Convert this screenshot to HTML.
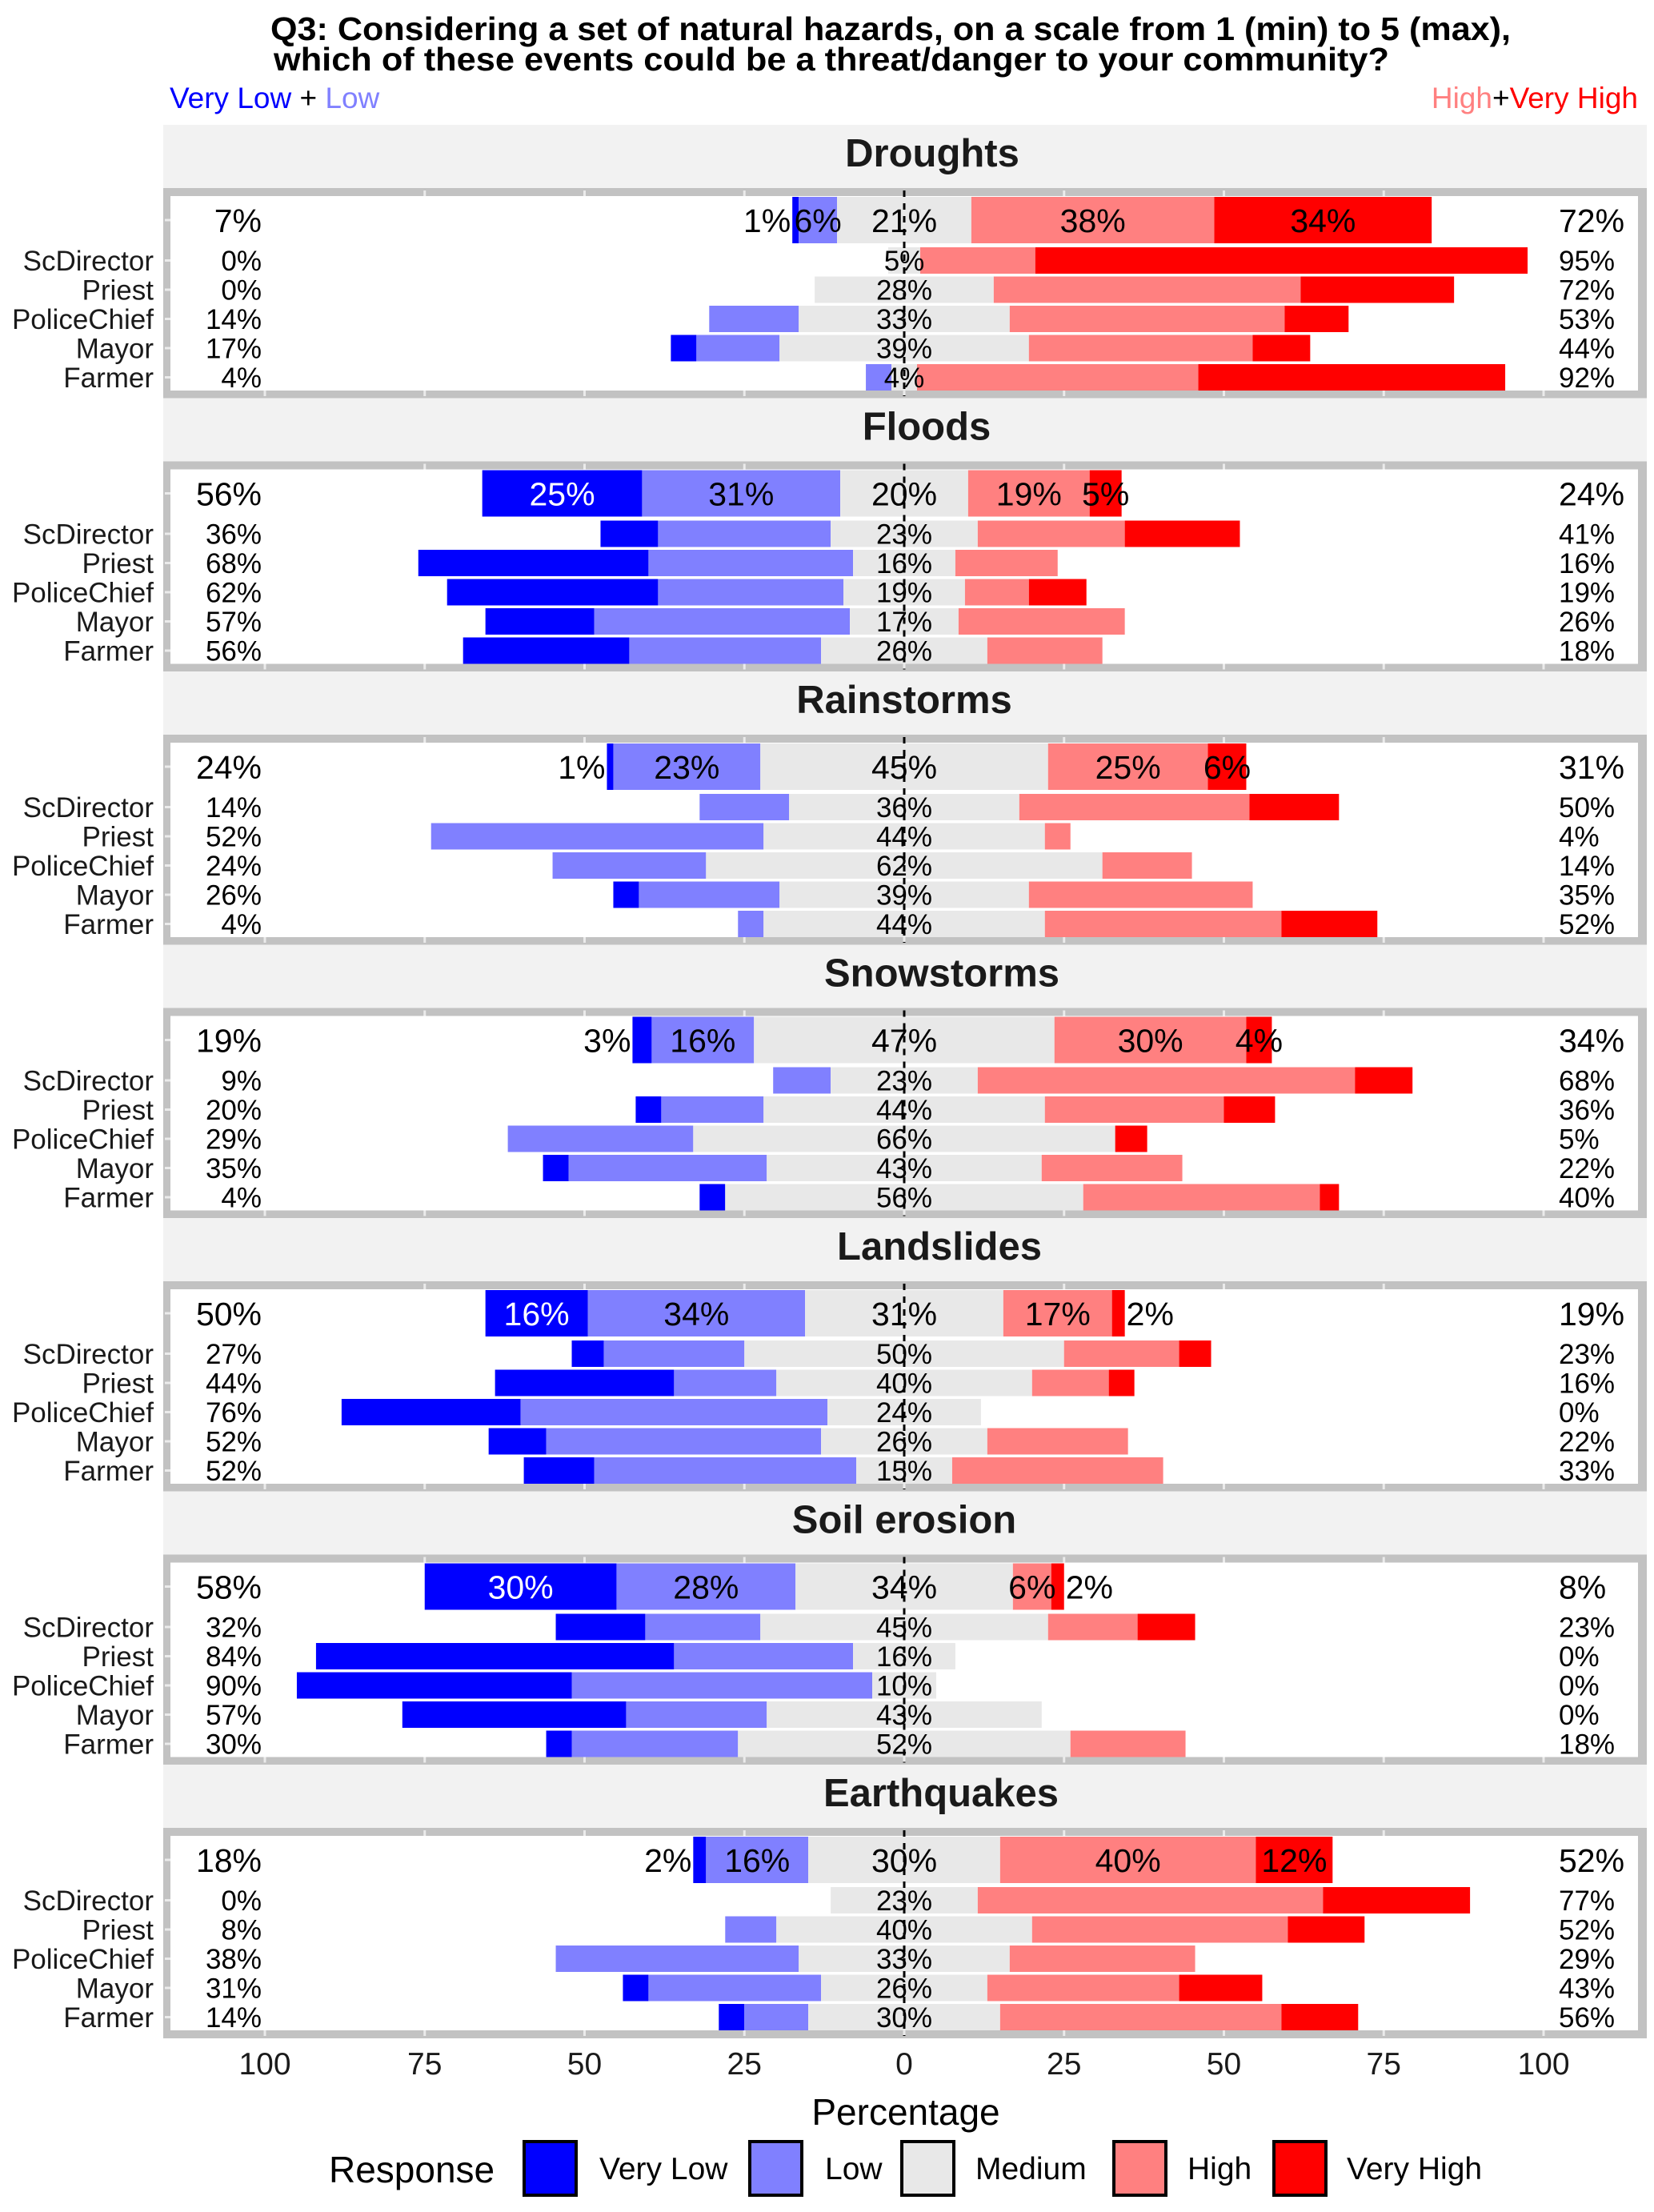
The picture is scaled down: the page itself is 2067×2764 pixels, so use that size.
<!DOCTYPE html>
<html><head><meta charset="utf-8"><style>
html,body{margin:0;padding:0;background:#fff;}
svg{display:block;font-family:"Liberation Sans",Arial,sans-serif;}
</style></head><body>
<svg id="chart" xmlns="http://www.w3.org/2000/svg" width="2067" height="2764" viewBox="0 0 2067 2764">
<rect x="0" y="0" width="2067" height="2764" fill="#ffffff"/>
<text x="338" y="50" font-size="41" font-weight="bold" textLength="1550" lengthAdjust="spacingAndGlyphs">Q3: Considering a set of natural hazards, on a scale from 1 (min) to 5 (max),</text>
<text x="342" y="88" font-size="41" font-weight="bold" textLength="1394" lengthAdjust="spacingAndGlyphs">which of  these events could be a threat/danger to your community?</text>
<text x="212" y="135" font-size="37"><tspan fill="#0000ff">Very Low</tspan><tspan fill="#000"> + </tspan><tspan fill="#8080ff">Low</tspan></text>
<text x="2047" y="135" font-size="37" text-anchor="end"><tspan fill="#ff8080">High</tspan><tspan fill="#000">+</tspan><tspan fill="#ff0000">Very High</tspan></text>
<g id="facets"></g>
<g id="xaxis"></g>
<text x="1132" y="2655" font-size="46" text-anchor="middle">Percentage</text>
<g id="legend"></g>
</svg>
<script>
const facets = ["Droughts","Floods","Rainstorms","Snowstorms","Landslides","Soil erosion","Earthquakes"];
const facetTitleX = [1165,1158,1130,1177,1174,1130,1176];
const groups = ["ScDirector","Priest","PoliceChief","Mayor","Farmer"];
// each facet: [overall, ScDirector, Priest, PoliceChief, Mayor, Farmer]
const veryLow = [
 [1,0,0,0,4,0],[25,9,36,33,17,26],[1,0,0,0,4,0],[3,0,4,0,4,4],[16,5,28,28,9,11],[30,14,56,43,35,4],[2,0,0,0,4,4]];
const low = [
 [6,0,0,14,13,4],[31,27,32,29,40,30],[23,14,52,24,22,4],[16,9,16,29,31,0],[34,22,16,48,43,41],[28,18,28,47,22,26],[16,0,8,38,27,10]];
const medium = [
 [21,5,28,33,39,4],[20,23,16,19,17,26],[45,36,44,62,39,44],[47,23,44,66,43,56],[31,50,40,24,26,15],[34,45,16,10,43,52],[30,23,40,33,26,30]];
const high = [
 [38,18,48,43,35,44],[19,23,16,10,26,18],[25,36,4,14,35,37],[30,59,28,0,22,37],[17,18,12,0,22,33],[6,14,0,0,0,18],[40,54,40,29,30,44]];
const veryHigh = [
 [34,77,24,10,9,48],[5,18,0,9,0,0],[6,14,0,0,0,15],[4,9,8,5,0,3],[2,5,4,0,0,0],[2,9,0,0,0,0],[12,23,12,0,13,12]];
const tickValues = [-100,-75,-50,-25,0,25,50,75,100];
const tickLabels = ["100","75","50","25","0","25","50","75","100"];
const responses = ["Very Low","Low","Medium","High","Very High"];
const colors = ["#0000ff","#8080ff","#e8e8e8","#ff8080","#ff0000"];

const NS = "http://www.w3.org/2000/svg";
const X0 = 1130, PX = 7.99;
function xs(v){ return X0 + v*PX; }
function mk(tag, attrs, parent, txt){
  const e = document.createElementNS(NS, tag);
  for (const k in attrs) e.setAttribute(k, attrs[k]);
  if (txt !== undefined) e.textContent = txt;
  parent.appendChild(e); return e;
}
const gF = document.getElementById("facets");
facets.forEach((name, k) => {
  const top = 156 + k*341.5;
  const g = mk("g", {}, gF);
  
  
  const strip = mk("rect", {x:204, y:top, width:1854, height:79, fill:"#f2f2f2"}, g);
  
  
  const st = mk("text", {x:facetTitleX[k], y:top+52, "font-size":49, "font-weight":"bold", "text-anchor":"middle", fill:"#1a1a1a"}, g, name);
  
  
  const pTop = top + 79;
  const border = mk("rect", {x:204, y:pTop, width:1854, height:263, fill:"#c2c2c2"}, g);
  
  
  const inner = mk("rect", {x:213, y:pTop+10, width:1834, height:243, fill:"#ffffff"}, g);
  
  
  tickValues.forEach(t => {
    const tx = xs(t);
    if (Math.abs(t) < 100) mk("line", {x1:tx, x2:tx, y1:pTop+3, y2:pTop+10, stroke:"#ebebeb", "stroke-width":3}, g);
    mk("line", {x1:tx, x2:tx, y1:pTop+253, y2:pTop+260, stroke:"#ebebeb", "stroke-width":3}, g);
  });
  const rows = [];
  rows.push({c: pTop+40, h: 58, big: true});
  for (let i=0;i<5;i++) rows.push({c: pTop+90.5+i*36.5, h: 33, big: false});
  rows.forEach((r, i) => {
    mk("line", {x1:206, x2:213, y1:r.c, y2:r.c, stroke:"#ebebeb", "stroke-width":3}, g);
    const vals = [veryLow[k][i], low[k][i], medium[k][i], high[k][i], veryHigh[k][i]];
    const m = vals[2];
    const starts = [-(vals[0]+vals[1]+m/2), -(vals[1]+m/2), -m/2, m/2, m/2+vals[3]];
    const rg = mk("g", {}, g);
    
    
    vals.forEach((v, j) => {
      if (v <= 0) return;
      const b = mk("rect", {x:xs(starts[j]), y:r.c - r.h/2, width:v*PX, height:r.h, fill:colors[j]}, rg);
      
      
    });
    const fs = r.big ? 41 : 35;
    const base = r.c + fs*0.36;
    const leftTot = vals[0]+vals[1], rightTot = vals[3]+vals[4];
    const lt = mk("text", {x:327, y:base, "font-size":fs, "text-anchor":"end"}, rg, leftTot + "%");
    
    
    const rt = mk("text", {x:1948, y:base, "font-size":fs}, rg, rightTot + "%");
    
    
    if (!r.big) {
      const gl = mk("text", {x:192, y:base, "font-size":35, "text-anchor":"end", fill:"#1a1a1a"}, rg, groups[i-1]);
      
      
      const ml = mk("text", {x:X0, y:base, "font-size":35, "text-anchor":"middle"}, rg, m + "%");
      
      
    } else {
      vals.forEach((v, j) => {
        const s = starts[j], e = s + v;
        let x = xs((s+e)/2), anchor = "middle", fill = "#000";
        if (j === 0) { if (v <= 3) { x = xs(s) - 2; anchor = "end"; } else fill = "#fff"; }
        if (j === 4 && v <= 3) { x = xs(e) + 2; anchor = "start"; }
        const t = mk("text", {x:x, y:base, "font-size":41, "text-anchor":anchor, fill:fill}, rg, v + "%");
        
        
      });
    }
  });
  const zl = mk("line", {x1:X0, x2:X0, y1:pTop+3, y2:pTop+260, stroke:"#000", "stroke-width":3, "stroke-dasharray":"8,8"}, g);
  
  
});
const gX = document.getElementById("xaxis");
tickValues.forEach((t, i) => {
  const tl = mk("text", {x:xs(t), y:2592, "font-size":39, "text-anchor":"middle", fill:"#1a1a1a"}, gX, tickLabels[i]);
  
  
});
const gL = document.getElementById("legend");
const lt = mk("text", {x:411, y:2727, "font-size":46}, gL, "Response");


const keyX = [653, 935, 1125, 1390, 1590];
const labX = [749, 1031, 1219, 1484, 1683];
responses.forEach((r, i) => {
  const k = mk("rect", {x:keyX[i]+2, y:2676, width:65, height:67, fill:colors[i], stroke:"#000", "stroke-width":4}, gL);
  
  
  const t = mk("text", {x:labX[i], y:2723, "font-size":39}, gL, r);
  
  
});
</script>
</body></html>
